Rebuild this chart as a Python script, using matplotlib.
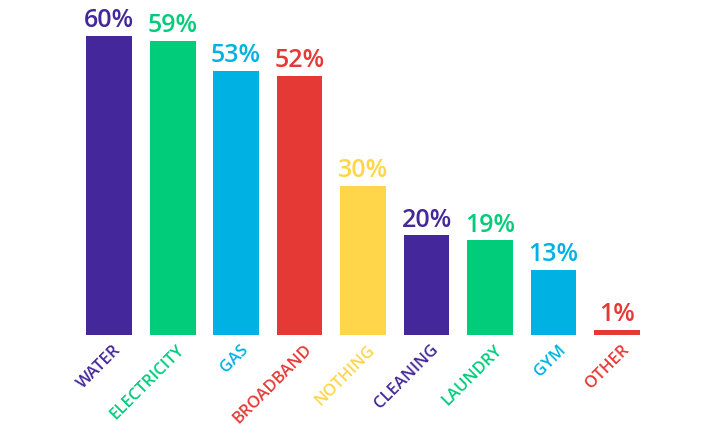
import matplotlib
matplotlib.use('Agg')
from matplotlib import pyplot as plt

# Data.
categories = ['WATER', 'ELECTRICITY', 'GAS', 'BROADBAND', 'NOTHING',
              'CLEANING', 'LAUNDRY', 'GYM', 'OTHER']
values = [60, 59, 53, 52, 30, 20, 19, 13, 1]

purple, green, blue, red, yellow = '#44279a', '#00cc7a', '#00b2e3', '#e53935', '#ffd54a'
colors = [purple, green, blue, red, yellow, purple, green, blue, red]

plt.rcParams['font.family'] = ['Open Sans', 'DejaVu Sans']

fig = plt.figure(figsize=(7.13, 4.40), dpi=100)
ax = fig.add_axes([0, 0, 1, 1])

xs = list(range(len(categories)))
ax.bar(xs, values, width=0.724, color=colors)

for x, v, c in zip(xs, values, colors):
    ax.annotate(f"{v}%", (x, v), xytext=(0, 2), textcoords='offset points',
                ha='center', va='bottom', fontsize=18, color=c,
                fontweight='semibold')
    ax.annotate(categories[x], (x, 0), xytext=(3, -5), textcoords='offset points',
                ha='right', va='top', rotation=45, rotation_mode='anchor',
                fontsize=12, color=c, fontweight='semibold')

ax.set_xlim(-1.717, 9.512)
ax.set_ylim(-21.08, 67.27)
ax.axis('off')

fig.savefig('out.png', dpi=100)
